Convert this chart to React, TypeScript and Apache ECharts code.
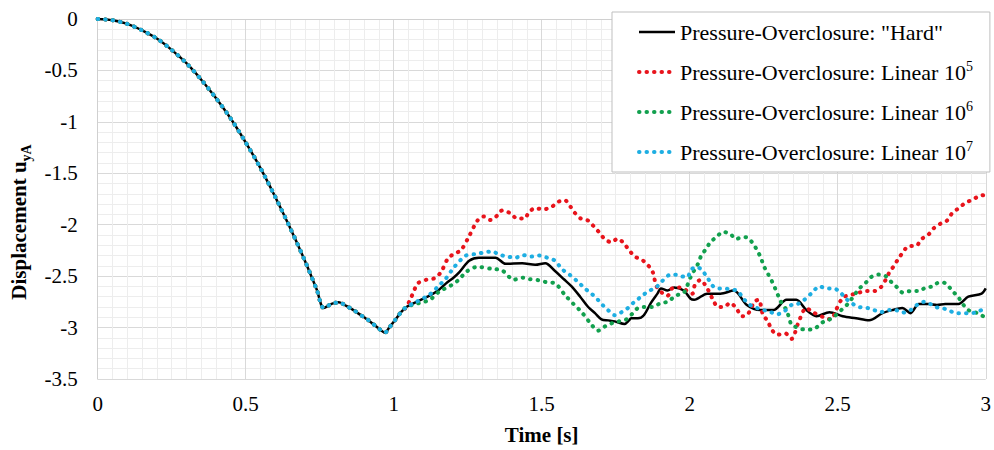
import React, { useEffect, useRef } from "react";
import * as echarts from "echarts";

const FONT = "'Liberation Serif', 'Times New Roman', serif";

const SERIES_NAMES = [
  'Pressure-Overclosure: "Hard"',
  "Pressure-Overclosure: Linear 10^5",
  "Pressure-Overclosure: Linear 10^6",
  "Pressure-Overclosure: Linear 10^7",
];

const X_TICKS = { min: 0, max: 3, interval: 0.5 };
const Y_TICKS = { min: -3.5, max: 0, interval: 0.5 };

// common part of all curves (time [s], displacement)
const commonStart: [number, number][] = [
  [0, 0], [0.05, -0.012], [0.1, -0.048], [0.15, -0.11], [0.2, -0.19], [0.25, -0.3],
  [0.3, -0.43], [0.35, -0.59], [0.4, -0.77], [0.45, -0.97], [0.5, -1.2],
  [0.55, -1.45], [0.6, -1.73], [0.65, -2.03], [0.7, -2.35], [0.74, -2.63],
  [0.764, -2.81], [0.79, -2.77], [0.815, -2.755], [0.84, -2.79], [0.864, -2.83],
  [0.9, -2.9], [0.92, -2.94], [0.95, -3.01], [0.97, -3.05], [0.985, -3.0],
  [1.004, -2.93], [1.025, -2.85], [1.043, -2.8],
];

const hardTail: [number, number][] = [
  [1.077, -2.75], [1.121, -2.69], [1.15, -2.64], [1.177, -2.57], [1.2, -2.52],
  [1.222, -2.46], [1.255, -2.35], [1.288, -2.32], [1.344, -2.32], [1.378, -2.38],
  [1.434, -2.375], [1.478, -2.39], [1.512, -2.375], [1.545, -2.45], [1.575, -2.53],
  [1.601, -2.6], [1.63, -2.7], [1.657, -2.8], [1.68, -2.86], [1.702, -2.92],
  [1.725, -2.93], [1.747, -2.94], [1.78, -2.965], [1.795, -2.93], [1.802, -2.91],
  [1.825, -2.91], [1.845, -2.88], [1.869, -2.76], [1.891, -2.67], [1.903, -2.62],
  [1.925, -2.64], [1.947, -2.61], [1.98, -2.64], [2.003, -2.72], [2.015, -2.73],
  [2.059, -2.67], [2.104, -2.67], [2.149, -2.64], [2.193, -2.78], [2.238, -2.83],
  [2.283, -2.83], [2.327, -2.73], [2.36, -2.73], [2.394, -2.83], [2.428, -2.89],
  [2.472, -2.85], [2.517, -2.89], [2.562, -2.91], [2.606, -2.93], [2.651, -2.86],
  [2.684, -2.83], [2.718, -2.81], [2.746, -2.86], [2.774, -2.77], [2.807, -2.77],
  [2.835, -2.78], [2.863, -2.77], [2.908, -2.77], [2.941, -2.7], [2.986, -2.67],
  [3.0, -2.62],
];

const linear5Tail: [number, number][] = [
  [1.06, -2.7], [1.082, -2.57], [1.11, -2.535], [1.138, -2.52], [1.16, -2.46],
  [1.183, -2.33], [1.205, -2.28], [1.227, -2.25], [1.255, -2.11], [1.283, -1.96],
  [1.303, -1.92], [1.328, -1.955], [1.35, -1.91], [1.367, -1.86], [1.395, -1.89],
  [1.417, -1.94], [1.443, -1.94], [1.456, -1.88], [1.478, -1.84], [1.506, -1.85],
  [1.532, -1.83], [1.554, -1.78], [1.577, -1.76], [1.596, -1.82], [1.612, -1.885],
  [1.632, -1.94], [1.657, -1.96], [1.677, -2.02], [1.696, -2.08], [1.713, -2.14],
  [1.735, -2.17], [1.757, -2.135], [1.777, -2.18], [1.796, -2.25], [1.815, -2.31],
  [1.838, -2.34], [1.858, -2.39], [1.875, -2.46], [1.89, -2.61], [1.925, -2.69],
  [1.94, -2.62], [1.967, -2.61], [2.009, -2.67], [2.017, -2.59], [2.037, -2.535],
  [2.053, -2.59], [2.065, -2.65], [2.079, -2.73], [2.095, -2.8], [2.115, -2.8],
  [2.137, -2.76], [2.159, -2.82], [2.176, -2.89], [2.193, -2.88], [2.21, -2.8],
  [2.216, -2.75], [2.233, -2.73], [2.247, -2.87], [2.264, -2.94], [2.277, -3.02],
  [2.296, -3.07], [2.322, -3.055], [2.344, -3.11], [2.355, -3.055], [2.366, -2.96],
  [2.394, -2.81], [2.416, -2.85], [2.461, -2.91], [2.478, -2.92], [2.494, -2.83],
  [2.517, -2.71], [2.539, -2.685], [2.562, -2.67], [2.595, -2.645], [2.623, -2.645],
  [2.645, -2.61], [2.662, -2.535], [2.675, -2.46], [2.69, -2.4], [2.705, -2.33],
  [2.72, -2.27], [2.738, -2.21], [2.765, -2.205], [2.783, -2.14], [2.805, -2.1],
  [2.824, -2.035], [2.847, -1.99], [2.869, -1.96], [2.886, -1.89], [2.908, -1.84],
  [2.93, -1.79], [2.952, -1.76], [2.98, -1.72], [3.0, -1.71],
];

const linear6Tail: [number, number][] = [
  [1.075, -2.77], [1.104, -2.75], [1.127, -2.72], [1.154, -2.65], [1.194, -2.59],
  [1.222, -2.53], [1.244, -2.46], [1.283, -2.41], [1.333, -2.43], [1.367, -2.445],
  [1.406, -2.535], [1.434, -2.515], [1.46, -2.53], [1.49, -2.54], [1.518, -2.56],
  [1.545, -2.57], [1.579, -2.685], [1.607, -2.77], [1.635, -2.85], [1.668, -2.97],
  [1.69, -3.03], [1.713, -2.99], [1.735, -2.96], [1.76, -2.94], [1.786, -2.92],
  [1.808, -2.86], [1.825, -2.81], [1.85, -2.8], [1.875, -2.8], [1.903, -2.76],
  [1.925, -2.75], [1.953, -2.69], [1.98, -2.66], [1.992, -2.59], [2.003, -2.51],
  [2.015, -2.445], [2.028, -2.38], [2.039, -2.3], [2.054, -2.24], [2.07, -2.17],
  [2.09, -2.12], [2.113, -2.07], [2.137, -2.09], [2.157, -2.14], [2.176, -2.12],
  [2.195, -2.125], [2.213, -2.18], [2.228, -2.25], [2.24, -2.32], [2.25, -2.4],
  [2.263, -2.47], [2.276, -2.54], [2.288, -2.615], [2.299, -2.69], [2.31, -2.76],
  [2.327, -2.83], [2.336, -2.91], [2.344, -2.975], [2.355, -2.99], [2.372, -3.01],
  [2.394, -3.02], [2.422, -3.01], [2.448, -2.95], [2.467, -2.93], [2.489, -2.89],
  [2.512, -2.83], [2.534, -2.77], [2.556, -2.685], [2.573, -2.62], [2.593, -2.57],
  [2.612, -2.51], [2.637, -2.485], [2.662, -2.5], [2.682, -2.56], [2.701, -2.61],
  [2.72, -2.66], [2.746, -2.645], [2.774, -2.645], [2.798, -2.61], [2.82, -2.6],
  [2.843, -2.56], [2.865, -2.57], [2.886, -2.64], [2.906, -2.7], [2.925, -2.78],
  [2.941, -2.83], [2.963, -2.85], [2.986, -2.88], [3.0, -2.91],
];

const linear7Tail: [number, number][] = [
  [1.077, -2.75], [1.121, -2.68], [1.15, -2.6], [1.177, -2.52], [1.205, -2.41],
  [1.244, -2.3], [1.278, -2.285], [1.305, -2.27], [1.333, -2.26], [1.356, -2.29],
  [1.385, -2.31], [1.412, -2.32], [1.436, -2.295], [1.465, -2.31], [1.492, -2.3],
  [1.518, -2.32], [1.545, -2.35], [1.568, -2.43], [1.596, -2.49], [1.624, -2.56],
  [1.646, -2.62], [1.668, -2.67], [1.69, -2.73], [1.702, -2.77], [1.724, -2.83],
  [1.747, -2.88], [1.77, -2.85], [1.791, -2.81], [1.813, -2.75], [1.836, -2.7],
  [1.858, -2.65], [1.886, -2.61], [1.903, -2.56], [1.93, -2.49], [1.948, -2.485],
  [1.97, -2.5], [1.992, -2.51], [2.003, -2.445], [2.02, -2.41], [2.037, -2.43],
  [2.059, -2.51], [2.076, -2.59], [2.095, -2.62], [2.115, -2.62], [2.14, -2.63],
  [2.162, -2.645], [2.182, -2.72], [2.204, -2.78], [2.227, -2.81], [2.25, -2.83],
  [2.273, -2.85], [2.296, -2.87], [2.32, -2.84], [2.344, -2.78], [2.365, -2.77],
  [2.387, -2.73], [2.41, -2.67], [2.439, -2.6], [2.461, -2.62], [2.486, -2.62],
  [2.506, -2.65], [2.528, -2.72], [2.551, -2.77], [2.573, -2.8], [2.601, -2.81],
  [2.623, -2.83], [2.645, -2.85], [2.673, -2.83], [2.695, -2.83], [2.718, -2.855],
  [2.746, -2.83], [2.768, -2.78], [2.79, -2.75], [2.812, -2.77], [2.829, -2.8],
  [2.852, -2.81], [2.874, -2.83], [2.899, -2.86], [2.921, -2.86], [2.946, -2.86],
  [2.97, -2.85], [2.997, -2.81],
];

const SERIES_TAILS = [hardTail, linear5Tail, linear6Tail, linear7Tail];
const SERIES_COLORS = ["#000000", "#e8141c", "#12a04e", "#1eaee2"];
const SOLID_WIDTH = 2.5;
const DOT_WIDTH = 4;
const DOT_DASH = [0.5, 7];

function legendFormatter(name: string): string {
  const m = name.match(/^(.*) 10\^(\d)$/);
  if (m) return `${m[1]} 10{sup|${m[2]}}`;
  return name;
}

export default function App() {
  const ref = useRef<HTMLDivElement>(null);
  useEffect(() => {
    if (!ref.current) return;
    const chart = echarts.init(ref.current, undefined, { renderer: "svg" });
    const lineStyleFor = (i: number) =>
      i === 0
        ? { color: SERIES_COLORS[i], width: SOLID_WIDTH }
        : { color: SERIES_COLORS[i], width: DOT_WIDTH, type: DOT_DASH, cap: "round" };
    const series = SERIES_NAMES.map((name, i) => ({
      name,
      type: "line",
      data: [...commonStart, ...SERIES_TAILS[i]],
      showSymbol: false,
      symbol: "none",
      smooth: 0.3,
      z: 2 + i,
      lineStyle: lineStyleFor(i),
      itemStyle: { color: SERIES_COLORS[i] },
    }));
    chart.setOption({
      animation: false,
      backgroundColor: "#ffffff",
      grid: { left: 92, right: 6, top: 19, bottom: 68, containLabel: false },
      xAxis: {
        type: "value",
        ...X_TICKS,
        name: "Time [s]",
        nameLocation: "middle",
        nameGap: 45,
        nameTextStyle: { fontFamily: FONT, fontWeight: "bold", fontSize: 21, color: "#000" },
        axisLine: { show: true, lineStyle: { color: "#d0d0d0", width: 1 } },
        axisTick: { show: false },
        axisLabel: { fontFamily: FONT, fontSize: 21, color: "#000", margin: 14 },
        splitLine: { show: true, lineStyle: { color: "#d9d9d9", width: 1 } },
        minorTick: { show: false, splitNumber: 10 },
        minorSplitLine: { show: true, lineStyle: { color: "#ededed", width: 1 } },
      },
      yAxis: {
        type: "value",
        ...Y_TICKS,
        name: "{m|Displacement u}{s|yA}",
        nameLocation: "middle",
        nameGap: 56,
        nameTextStyle: {
          fontFamily: FONT,
          fontWeight: "bold",
          fontSize: 21,
          color: "#000",
          padding: [0, 46, 0, 0],
          rich: {
            m: { fontFamily: FONT, fontWeight: "bold", fontSize: 21, lineHeight: 30, verticalAlign: "middle", color: "#000" },
            s: { fontFamily: FONT, fontWeight: "bold", fontSize: 14, lineHeight: 14, verticalAlign: "bottom", color: "#000" },
          },
        },
        axisLine: { show: true, lineStyle: { color: "#d0d0d0", width: 1 } },
        axisTick: { show: false },
        axisLabel: { fontFamily: FONT, fontSize: 21, color: "#000", margin: 20 },
        splitLine: { show: true, lineStyle: { color: "#d9d9d9", width: 1 } },
        minorTick: { show: false, splitNumber: 5 },
        minorSplitLine: { show: true, lineStyle: { color: "#ededed", width: 1 } },
      },
      legend: {
        orient: "vertical",
        left: 612,
        top: 12,
        padding: [7, 17, 7, 25],
        itemGap: 14,
        itemWidth: 36,
        itemHeight: 14,
        backgroundColor: "#ffffff",
        borderColor: "#bfbfbf",
        borderWidth: 1,
        itemStyle: { color: "rgba(0,0,0,0)", borderColor: "rgba(0,0,0,0)", borderWidth: 0 },
        formatter: legendFormatter,
        textStyle: {
          fontFamily: FONT,
          fontSize: 22,
          color: "#000",
          lineHeight: 26,
          rich: {
            sup: { fontFamily: FONT, fontSize: 14, lineHeight: 14, verticalAlign: "top", color: "#000" },
          },
        },
        data: SERIES_NAMES.map((name, i) => ({
          name,
          lineStyle: i === 0 ? { width: SOLID_WIDTH } : { width: DOT_WIDTH, type: DOT_DASH, cap: "round" },
        })),
      },
      series,
    });
    return () => chart.dispose();
  }, []);
  return (
    <div
      ref={ref}
      style={{ position: "fixed", left: 0, top: 0, width: 994, height: 450, background: "#fff" }}
    />
  );
}
